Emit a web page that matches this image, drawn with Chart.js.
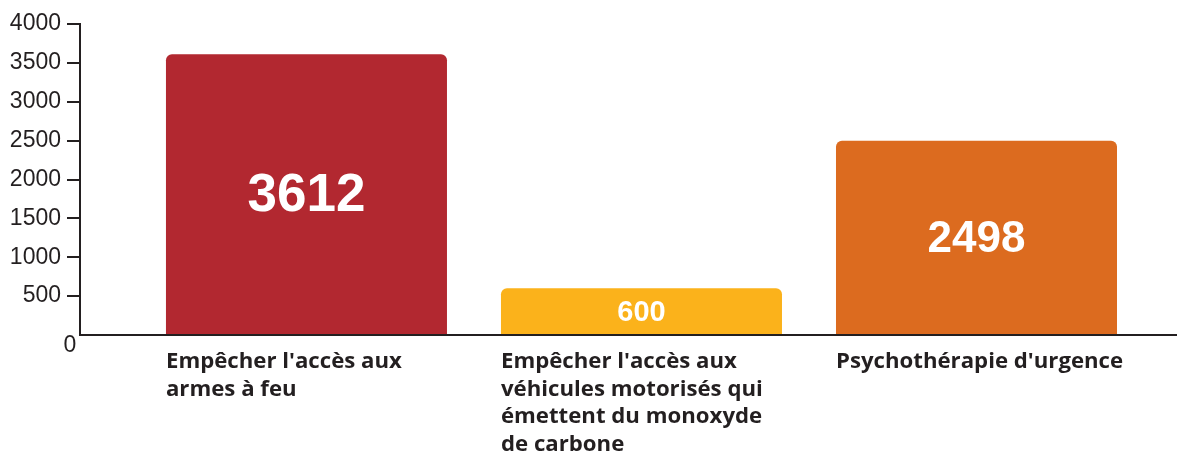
<!DOCTYPE html>
<html>
<head>
<meta charset="utf-8">
<script src="https://cdn.jsdelivr.net/npm/chart.js@4.4.0/dist/chart.umd.min.js"></script>
<style>
  html, body { margin: 0; padding: 0; background: #fff; }
  #wrap { width: 1177px; height: 454px; position: relative; }
</style>
</head>
<body>
<div id="wrap"><canvas id="chart"></canvas></div>
<script>
// Data
const categories = [
  ["Empêcher l'accès aux", "armes à feu"],
  ["Empêcher l'accès aux", "véhicules motorisés qui", "émettent du monoxyde", "de carbone"],
  ["Psychothérapie d'urgence"]
];
const values = [3612, 600, 2498];

// Styles
const barColors = ['#b22830', '#fbb21b', '#dc6b1f'];
const valueFontSizes = [53, 29, 44];
const ink = '#231f20';
const barPct = 0.8388;

// white value inside each bar, centred vertically
const valueLabels = {
  id: 'valueLabels',
  afterDatasetsDraw(chart) {
    const ctx = chart.ctx;
    const meta = chart.getDatasetMeta(0);
    ctx.save();
    ctx.fillStyle = '#fff';
    ctx.textAlign = 'center';
    ctx.textBaseline = 'middle';
    meta.data.forEach((bar, i) => {
      ctx.font = 'bold ' + valueFontSizes[i] + 'px "Liberation Sans", Arial, sans-serif';
      ctx.fillText(String(values[i]), bar.x, (bar.y + bar.base) / 2 + 2);
    });
    ctx.restore();
  }
};

// the "0" sits below-left of the origin
const zeroLabel = {
  id: 'zeroLabel',
  afterDraw(chart) {
    const ctx = chart.ctx;
    const y = chart.scales.y;
    ctx.save();
    ctx.fillStyle = ink;
    ctx.font = '23px "Liberation Sans", Arial, sans-serif';
    ctx.textAlign = 'center';
    ctx.textBaseline = 'middle';
    ctx.fillText('0', y.right - 10, y.getPixelForValue(0) + 11);
    ctx.restore();
  }
};

const ctx = document.getElementById('chart').getContext('2d');
new Chart(ctx, {
  type: 'bar',
  data: {
    datasets: [{
      data: values.map((v, i) => ({ x: i, y: v })),
      backgroundColor: barColors,
      borderRadius: 6,
      borderSkipped: 'start',
      barPercentage: barPct,
      categoryPercentage: 1
    }]
  },
  options: {
    responsive: true,
    maintainAspectRatio: false,
    animation: false,
    layout: { padding: { top: 24, right: 0, bottom: 0, left: 0 } },
    plugins: {
      legend: { display: false },
      tooltip: { enabled: false }
    },
    scales: {
      x: {
        type: 'linear',
        offset: false,
        bounds: 'data',
        min: -0.676,
        max: 2.5985,
        afterBuildTicks: s => {
          s.ticks = categories.map((c, i) => ({ value: i - barPct / 2 }));
        },
        ticks: {
          align: 'start',
          autoSkip: false,
          maxRotation: 0,
          minRotation: 0,
          padding: 13,
          color: ink,
          font: { family: 'Open Sans', weight: 'bold', size: 22.2, lineHeight: 1.245 },
          callback: (v, i) => categories[i]
        },
        grid: { display: false, drawTicks: false, offset: false },
        border: { display: true, color: ink, width: 2 },
        afterFit: s => { s.height = 119; }
      },
      y: {
        min: 0,
        max: 4000,
        ticks: {
          stepSize: 500,
          padding: 6,
          color: ink,
          font: { family: 'Liberation Sans', size: 23 },
          callback: v => (v === 0 ? '' : String(v))
        },
        grid: {
          drawOnChartArea: false,
          drawTicks: true,
          tickLength: 13,
          lineWidth: 2,
          color: c => (c.tick && c.tick.value === 0 ? 'rgba(0,0,0,0)' : ink)
        },
        border: { display: true, color: ink, width: 2 },
        afterFit: s => { s.width = 80; }
      }
    }
  },
  plugins: [valueLabels, zeroLabel]
});
</script>
</body>
</html>
